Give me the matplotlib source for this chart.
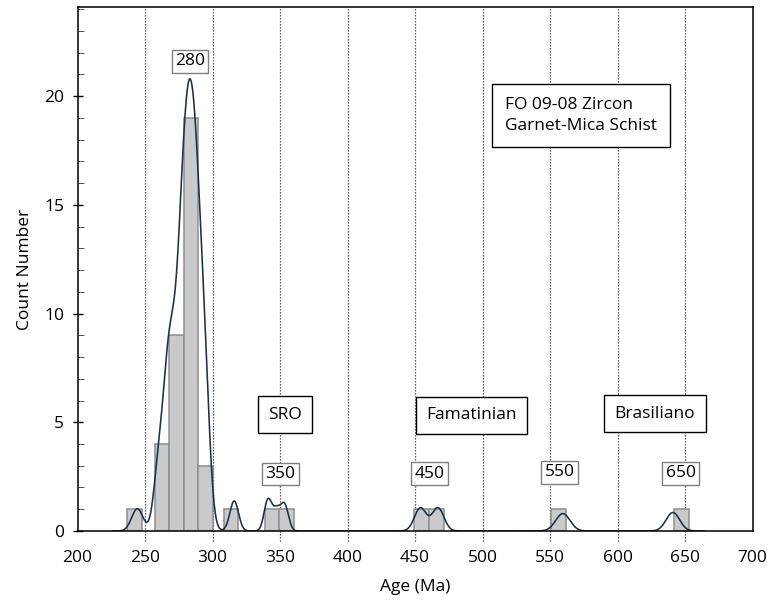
import numpy as np
import matplotlib.pyplot as plt

# histogram bars (left edge in Ma, count)
bin_left = [236.7, 257.2, 267.9, 278.6, 289.3, 308.3, 338.5, 349.3, 449.5, 460.4, 550.9, 642.0]
bin_width = 10.8
counts = [1, 4, 9, 19, 3, 1, 1, 1, 1, 1, 1, 1]

# relative probability curve, as gaussian components (centre, spread, height)
peak_age = [244.3, 259.5, 267.5, 279.0, 287.5, 295.0, 316.0, 341.0, 347.5, 353.5, 454.0, 467.0, 559.5, 641.0]
peak_sd = [4.2, 3.5, 4.5, 5.5, 5.5, 3.5, 3.2, 2.8, 3.0, 2.8, 4.4, 4.4, 5.3, 5.0]
peak_h = [1.02, 2.2, 7.3, 14.0, 14.0, 3.0, 1.38, 1.4, 0.95, 1.15, 1.06, 1.06, 0.8, 0.85]

peak_labels = ['280', '350', '450', '550', '650']
peak_label_x = [283.3, 350.2, 460.5, 557.0, 647.0]
peak_label_y = [21.6, 2.62, 2.64, 2.7, 2.65]

event_labels = ['SRO', 'Famatinian', 'Brasiliano']
event_x = [353.6, 492.0, 627.8]
event_y = [5.34, 5.32, 5.4]

sample_text = 'FO 09-08 Zircon\nGarnet-Mica Schist'
#-------------------------------------------------------------------------------------

plt.rcParams['font.family'] = ['Open Sans', 'DejaVu Sans']
plt.rcParams['font.size'] = 12.5

fig = plt.figure(figsize=(7.73, 6.04), dpi=100)
ax = fig.add_axes([0.1003, 0.1209, 0.8732, 0.8675])

for x in range(250, 700, 50):
    ax.axvline(x, ymin=-0.02, ymax=1, color='#333333', linestyle=(0, (1, 1.4)),
               linewidth=0.9, clip_on=False, zorder=1)

ax.bar(bin_left, counts, width=bin_width, align='edge', color='#c9cacc',
       edgecolor='#8e8e8e', linewidth=1.1, zorder=2)

T = np.linspace(226, 664, 3000)
curve = np.zeros_like(T)
for c, s, h in zip(peak_age, peak_sd, peak_h):
    curve += h * np.exp(-(T - c)**2 / (2 * s**2))
ax.plot(T, curve, color='#1c3048', linewidth=1.15, zorder=2.2)

#-------------------------------------------------------------------------------------
for lab, x, y in zip(peak_labels, peak_label_x, peak_label_y):
    ax.text(x, y, lab, ha='center', va='center', zorder=4,
            bbox=dict(boxstyle='square,pad=0.2', facecolor='white', edgecolor='#808080', linewidth=1.0))

for lab, x, y in zip(event_labels, event_x, event_y):
    ax.text(x, y, lab, ha='center', va='center', zorder=4,
            bbox=dict(boxstyle='square,pad=0.6', facecolor='white', edgecolor='black', linewidth=1.0))

ax.text(516.7, 19.1, sample_text, ha='left', va='center', linespacing=1.45, zorder=4,
        bbox=dict(boxstyle='square,pad=0.75', facecolor='white', edgecolor='black', linewidth=1.0))

#-------------------------------------------------------------------------------------
ax.set_xlim(200, 700)
ax.set_ylim(0, 24.1)
ax.set_xticks(range(200, 701, 50))
ax.set_yticks([0, 5, 10, 15, 20])
ax.set_yticks(range(0, 25), minor=True)
ax.tick_params(axis='x', length=0, pad=14)
ax.tick_params(axis='y', which='major', direction='inout', length=7, width=1.0, pad=6)
ax.tick_params(axis='y', which='minor', direction='in', length=4, width=0.7, color='#555555')
for sp in ax.spines.values():
    sp.set_linewidth(1.1)
    sp.set_zorder(3)

ax.set_xlabel('Age (Ma)', labelpad=9)
ax.set_ylabel('Count Number', labelpad=8)

plt.savefig('out.png', dpi=100)
